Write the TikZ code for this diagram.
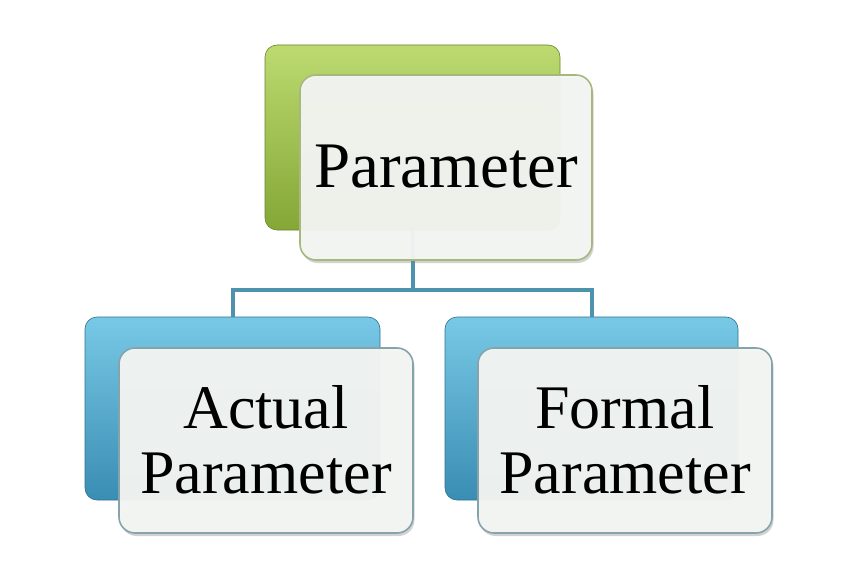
\documentclass[tikz,border=0pt]{standalone}
\usepackage{fontspec}
\setmainfont{Liberation Serif}
\usetikzlibrary{shadows}
\definecolor{gtop}{HTML}{BCDA70}
\definecolor{gmid}{HTML}{9FC24C}
\definecolor{gbot}{HTML}{84A736}
\definecolor{btop}{HTML}{78C9E6}
\definecolor{bmid}{HTML}{52AFD6}
\definecolor{bbot}{HTML}{3A8DB3}
\definecolor{wfill}{HTML}{F4F6F3}
\definecolor{gedge}{HTML}{A6B87E}
\definecolor{bedge}{HTML}{86A2AC}
\definecolor{conn}{HTML}{4E93AE}
\tikzset{
  back/.style={rectangle, rounded corners=12pt, inner sep=0pt},
  greenback/.style={back, top color=gtop, middle color=gmid, bottom color=gbot, draw=gbot!80!black, line width=0.6pt},
  blueback/.style={back, top color=btop, middle color=bmid, bottom color=bbot, draw=bbot!80!black, line width=0.6pt},
  front/.style={rectangle, rounded corners=16pt, inner sep=0pt, fill=wfill, fill opacity=0.95, text opacity=1,
    line width=1.6pt, drop shadow={shadow xshift=1.5pt, shadow yshift=-3pt, opacity=0.35}},
  connline/.style={draw=conn, line width=4pt},
}
\begin{document}
\begin{tikzpicture}[x=1pt,y=-1pt]
\useasboundingbox[fill=white] (0,0) rectangle (848,588);
% coloured back cards
\node[greenback, minimum width=295pt, minimum height=185pt] (g) at (412.5,137.5) {};
\node[blueback, minimum width=295pt, minimum height=183pt] (bl) at (232.5,408.5) {};
\node[blueback, minimum width=293pt, minimum height=183pt] (br) at (591.5,408.5) {};
% connectors
\draw[connline] (g.south) -- ++(0,60) coordinate (j);
\draw[connline] (j) -| (bl.north);
\draw[connline] (j) -| (br.north);
% front cards
\node[front, draw=gedge, minimum width=292pt, minimum height=185pt, align=center,
  font=\fontsize{65}{65}\selectfont] (top) at (446,167.5) {\raisebox{2pt}{Parameter}};
\node[front, draw=bedge, minimum width=294pt, minimum height=185pt, align=center,
  font=\fontsize{62}{65}\selectfont] (al) at (266,440.5) {\raisebox{3pt}{Actual}\\\raisebox{3pt}{Parameter}};
\node[front, draw=bedge, minimum width=294pt, minimum height=185pt, align=center,
  font=\fontsize{62}{65}\selectfont] (fr) at (625,440.5) {\raisebox{3pt}{Formal}\\\raisebox{3pt}{Parameter}};
\end{tikzpicture}
\end{document}
